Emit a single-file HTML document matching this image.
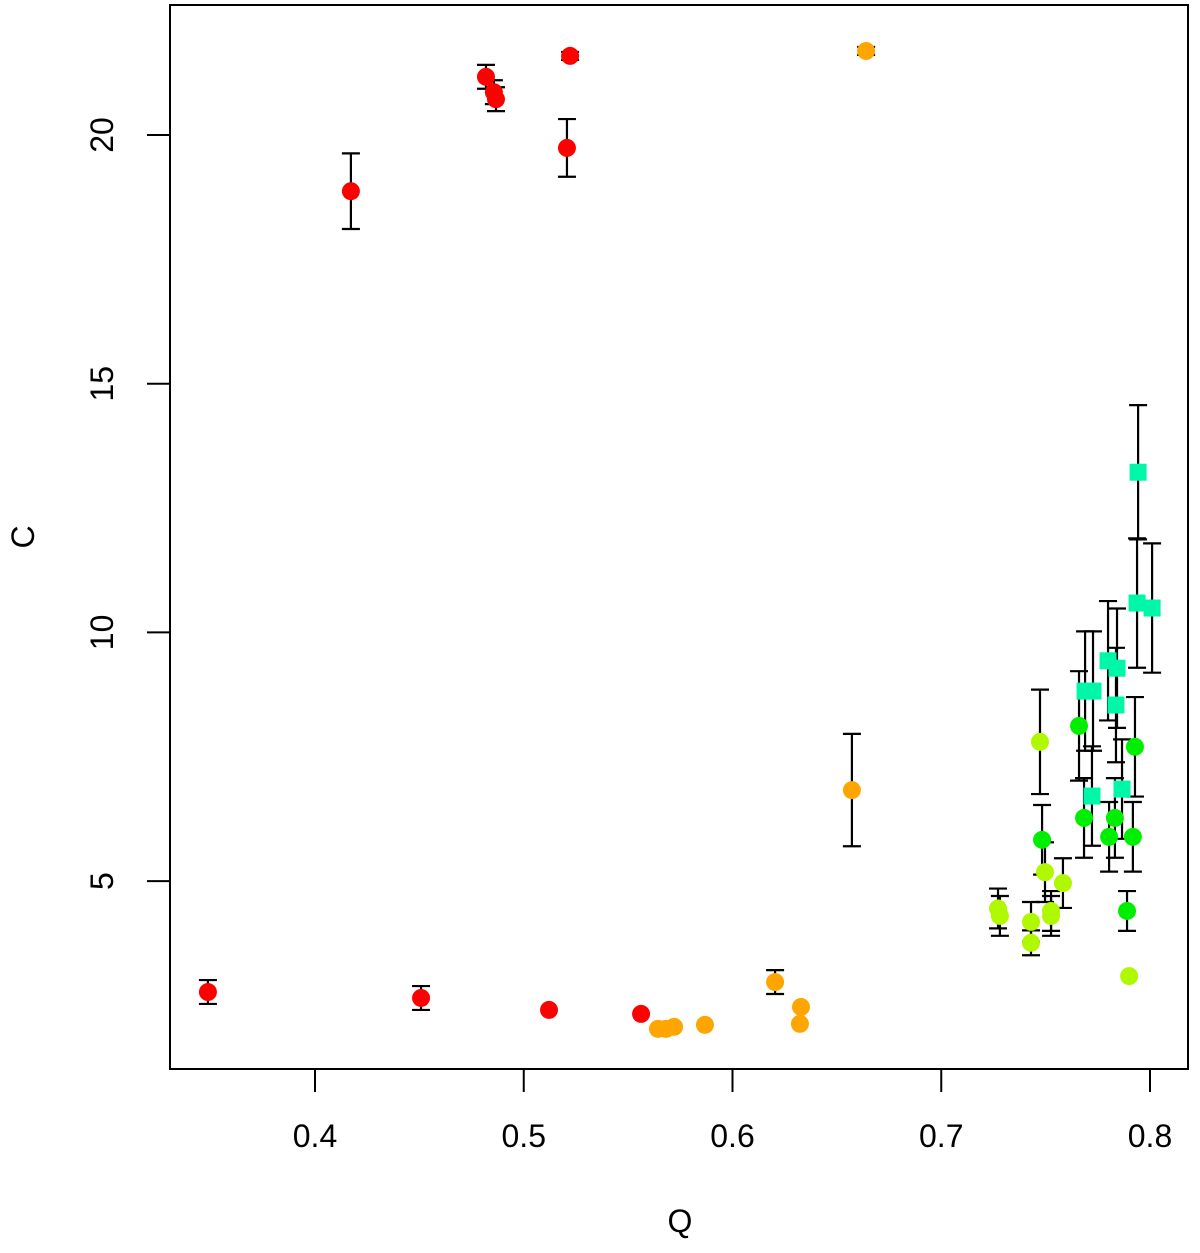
<!DOCTYPE html>
<html><head><meta charset="utf-8"><style>
html,body{margin:0;padding:0;background:#fff;}
svg text{font-family:"Liberation Sans",sans-serif;fill:#000;}
</style></head><body>
<svg id="chart" width="1200" height="1248" xmlns="http://www.w3.org/2000/svg">
<rect x="170" y="5" width="1018" height="1064" fill="none" stroke="#000" stroke-width="2"/>
<g id="axes"></g><g id="errs"></g><g id="marks"></g>
<text x="680" y="1232" font-size="32" text-anchor="middle">Q</text>
<text x="0" y="0" font-size="32" text-anchor="middle" transform="translate(34,537) rotate(-90)">C</text>
</svg>
<script>
const xTicks=[0.4,0.5,0.6,0.7,0.8];
const xTickLabels=["0.4","0.5","0.6","0.7","0.8"];
const yTicks=[5,10,15,20];
const yTickLabels=["5","10","15","20"];
const groups=["red","orange","teal","green","lime"];
const groupColors=["#ff0000","#ffa500","#00f7a8","#00ee00","#b0f800"];
const groupShapes=["circle","circle","square","circle","circle"];
const redX=[0.3487,0.4172,0.4508,0.4819,0.4857,0.4867,0.5121,0.5222,0.5207,0.5562];
const redY=[2.77,18.87,2.65,21.17,20.86,20.72,2.41,21.59,19.74,2.33];
const redErr=[0.24,0.76,0.24,0.24,0.24,0.24,0,0.08,0.58,0];
const orangeX=[0.6640,0.6572,0.6204,0.5643,0.5681,0.5720,0.5868,0.6323,0.6328];
const orangeY=[21.69,6.83,2.97,2.03,2.03,2.07,2.11,2.13,2.47];
const orangeErr=[0.08,1.13,0.24,0,0,0,0,0,0];
const tealX=[0.7943,0.7938,0.8010,0.7799,0.7842,0.7689,0.7727,0.7837,0.7722,0.7866];
const tealY=[13.22,10.59,10.49,9.43,9.28,8.82,8.82,8.54,6.71,6.85];
const tealErr=[1.35,1.3,1.3,1.2,1.2,1.2,1.2,1.15,1.0,1.0];
const greenX=[0.7660,0.7928,0.7684,0.7832,0.7804,0.7918,0.7483,0.7890];
const greenY=[8.12,7.70,6.27,6.27,5.89,5.89,5.83,4.40];
const greenErr=[1.1,1.0,0.8,0.8,0.7,0.7,0.7,0.4];
const limeX=[0.7473,0.7497,0.7583,0.7272,0.7281,0.7430,0.7526,0.7526,0.7430,0.7900];
const limeY=[7.80,5.18,4.96,4.45,4.30,4.18,4.40,4.30,3.76,3.09];
const limeErr=[1.05,0.6,0.5,0.4,0.4,0.4,0.4,0.4,0.25,0];

const NS="http://www.w3.org/2000/svg";
function sx(v){return 315+(v-0.4)*2087.5;}
function sy(v){return 135+(20-v)*49.74;}
function mk(tag,attrs,parent){const e=document.createElementNS(NS,tag);for(const k in attrs)e.setAttribute(k,attrs[k]);parent.appendChild(e);return e;}
const axes=document.getElementById('axes');
xTicks.forEach((t,i)=>{
  const l=mk('line',{x1:sx(t),x2:sx(t),y1:1069,y2:1092,stroke:'#000','stroke-width':2},axes);
  
  
  const tx=mk('text',{x:sx(t),y:1147,'font-size':32,'text-anchor':'middle'},axes);
  tx.textContent=xTickLabels[i];
  
  
});
yTicks.forEach((t,i)=>{
  const l=mk('line',{x1:147,x2:170,y1:sy(t),y2:sy(t),stroke:'#000','stroke-width':2},axes);
  
  
  const tx=mk('text',{x:0,y:0,'font-size':32,'text-anchor':'middle',transform:`translate(113,${sy(t)}) rotate(-90)`},axes);
  tx.textContent=yTickLabels[i];
  
  
});
const series=[[redX,redY,redErr],[orangeX,orangeY,orangeErr],[tealX,tealY,tealErr],[greenX,greenY,greenErr],[limeX,limeY,limeErr]];
const errs=document.getElementById('errs'),marks=document.getElementById('marks');
series.forEach((s,gi)=>{
  const [X,Y,E]=s;
  X.forEach((x,i)=>{
    const px=sx(x),e=E[i];
    if(e>0){
      const g=mk('g',{stroke:'#000','stroke-width':2.2},errs);
      
      
      mk('line',{x1:px,x2:px,y1:sy(Y[i]+e),y2:sy(Y[i]-e)},g);
      mk('line',{x1:px-9,x2:px+9,y1:sy(Y[i]+e),y2:sy(Y[i]+e)},g);
      mk('line',{x1:px-9,x2:px+9,y1:sy(Y[i]-e),y2:sy(Y[i]-e)},g);
    }
    let m;
    if(groupShapes[gi]==='square'){
      m=mk('rect',{x:px-8.5,y:sy(Y[i])-8.5,width:17,height:17,fill:groupColors[gi]},marks);
    }else{
      m=mk('circle',{cx:px,cy:sy(Y[i]),r:9,fill:groupColors[gi]},marks);
    }
    
    
  });
});
</script>
</body></html>
